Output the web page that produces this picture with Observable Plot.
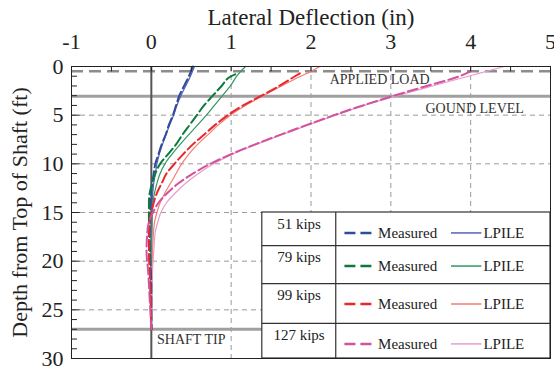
<!DOCTYPE html>
<html>
<head>
<meta charset="utf-8">
<script src="https://cdn.jsdelivr.net/npm/d3@7"></script>
<script src="https://cdn.jsdelivr.net/npm/@observablehq/plot@0.6"></script>
<style>
  html, body { margin: 0; padding: 0; background: #fff; }
  #chart svg { display: block; }
</style>
</head>
<body>
<div id="chart"></div>
<script>
// ---- Data ----
const loads = ["51 kips", "79 kips", "99 kips", "127 kips"];
const xTicks = [-1, 0, 1, 2, 3, 4, 5];
const yTicks = [0, 5, 10, 15, 20, 25, 30];

// 51 kips
const m51Depth = [0, 1, 2, 3, 4, 5, 6, 7, 8, 9, 10, 11, 12, 13, 14, 16, 18, 20, 23, 27];
const m51Defl  = [0.52, 0.47, 0.41, 0.35, 0.31, 0.27, 0.22, 0.18, 0.13, 0.09, 0.05, 0.03, 0.01, 0.0, -0.01, -0.02, -0.02, -0.01, 0, 0];
const l51Depth = [0, 1, 2, 3, 4, 5, 6, 7, 8, 9, 10, 11, 12, 14, 16, 20, 27];
const l51Defl  = [0.54, 0.49, 0.43, 0.37, 0.32, 0.28, 0.23, 0.185, 0.14, 0.10, 0.07, 0.05, 0.03, 0.01, 0.0, 0, 0];

// 79 kips
const m79Depth = [0.8, 1, 2, 3, 4, 5, 6, 7, 8, 9, 10, 11, 12, 13, 14, 15, 17, 20, 23, 27];
const m79Defl  = [1.05, 1.0, 0.88, 0.77, 0.66, 0.57, 0.48, 0.39, 0.31, 0.21, 0.11, 0.05, 0.01, -0.02, -0.03, -0.03, -0.03, -0.02, -0.01, 0];
const l79Depth = [0, 0.5, 1, 2, 3, 4, 5, 6, 7, 8, 9, 10, 11, 12, 13, 14, 16, 20, 27];
const l79Defl  = [1.18, 1.12, 1.07, 0.99, 0.89, 0.79, 0.69, 0.58, 0.47, 0.36, 0.26, 0.17, 0.11, 0.07, 0.04, 0.02, 0.01, 0, 0];

// 99 kips
const m99Depth = [0.7, 1, 2, 3, 4, 5, 6, 7, 8, 9, 10, 11, 12, 13, 14, 15, 16, 17, 19, 21, 23, 27];
const m99Defl  = [1.86, 1.8, 1.6, 1.38, 1.15, 0.96, 0.8, 0.66, 0.52, 0.4, 0.29, 0.19, 0.13, 0.07, 0.03, 0.0, -0.02, -0.03, -0.03, -0.02, -0.01, 0];
const l99Depth = [0, 0.5, 1, 2, 3, 4, 5, 6, 7, 8, 9, 10, 11, 12, 13, 14, 15, 16, 18, 20, 24, 27];
const l99Defl  = [2.11, 2.0, 1.87, 1.63, 1.40, 1.18, 0.99, 0.84, 0.71, 0.58, 0.47, 0.38, 0.31, 0.24, 0.17, 0.11, 0.07, 0.04, 0.02, 0.01, 0, 0];

// 127 kips
const m127Depth = [0.5, 1, 2, 3, 4, 5, 6, 7, 8, 9, 10, 11, 12, 13, 14, 15, 16, 17, 19, 21, 24, 27];
const m127Defl  = [4.0, 3.86, 3.45, 3.04, 2.65, 2.29, 1.95, 1.62, 1.3, 1.0, 0.74, 0.52, 0.34, 0.2, 0.09, 0.02, -0.03, -0.05, -0.06, -0.04, -0.02, 0];
const l127Depth = [0, 1, 2, 3, 4, 5, 6, 7, 8, 9, 10, 11, 12, 13, 14, 15, 16, 17, 19, 22, 27];
const l127Defl  = [4.42, 3.97, 3.52, 3.08, 2.67, 2.31, 1.97, 1.64, 1.32, 1.02, 0.78, 0.59, 0.43, 0.30, 0.19, 0.12, 0.08, 0.05, 0.03, 0.01, 0];

const measuredColors = ["#2f4b9c", "#0c7a3c", "#e8282c", "#d2529e"];
const lpileColors    = ["#5263b2", "#2f9862", "#f27d74", "#e99ccc"];

// reference levels (ft)
const appliedLoadDepth = 0.5;
const groundLevelDepth = 3.05;
const shaftTipDepth = 27;

// ---- Build tables ----
const measuredSets = [[m51Depth, m51Defl], [m79Depth, m79Defl], [m99Depth, m99Defl], [m127Depth, m127Defl]];
const lpileSets    = [[l51Depth, l51Defl], [l79Depth, l79Defl], [l99Depth, l99Defl], [l127Depth, l127Defl]];
function toRows(sets) {
  return sets.flatMap(([dep, def], i) => dep.map((d, j) => ({load: loads[i], idx: i, depth: d, defl: def[j]})));
}
const measuredRows = toRows(measuredSets);
const lpileRows = toRows(lpileSets);

// legend table layout (in data units of the chart)
const tableX1 = 1.39, tableX2 = 5, tableDiv = 2.31;
const rowTops = [15, 18.4, 22.3, 26.4];
const rowBottoms = [18.4, 22.3, 26.4, 30];
const legendRows = loads.map((load, i) => ({load, i, top: rowTops[i], bottom: rowBottoms[i]}));

const serif = "'Liberation Serif', 'Times New Roman', 'DejaVu Serif', serif";

const chart = Plot.plot({
  width: 554,
  height: 370,
  marginLeft: 71,
  marginRight: 4,
  marginTop: 66,
  marginBottom: 12,
  style: {fontFamily: serif, background: "white", color: "#222", overflow: "visible"},
  x: {domain: [-1, 5]},
  y: {domain: [0, 30], reverse: true},
  marks: [
    // grid
    Plot.ruleX([1, 2, 3, 4], {x: d => d, y1: 0, y2: 30, stroke: "#9a9a9a", strokeWidth: 1, strokeDasharray: "5,4"}),
    Plot.ruleY([5, 10, 15, 20, 25], {y: d => d, x1: -1, x2: 5, stroke: "#9a9a9a", strokeWidth: 1, strokeDasharray: "5,4"}),
    // reference levels
    Plot.ruleY([appliedLoadDepth], {y: d => d, x1: -1, x2: 5, stroke: "#8c8c8c", strokeWidth: 2.5, strokeDasharray: "12,6"}),
    Plot.ruleY([groundLevelDepth], {y: d => d, x1: -1, x2: 5, stroke: "#a0a0a0", strokeWidth: 3}),
    Plot.ruleY([shaftTipDepth], {y: d => d, x1: -1, x2: 5, stroke: "#a0a0a0", strokeWidth: 3}),
    Plot.ruleX([0], {x: d => d, y1: 0, y2: 30, stroke: "#555", strokeWidth: 2}),
    // annotations
    Plot.text(["APPLIED LOAD"], {x: 2.86, y: 1.35, text: d => d, fontSize: 14, fill: "#333", fontFamily: serif}),
    Plot.text(["GOUND LEVEL"], {x: 4.05, y: 4.3, text: d => d, fontSize: 14, fill: "#333", fontFamily: serif}),
    Plot.text(["SHAFT TIP"], {x: 0.5, y: 28.05, text: d => d, fontSize: 14, fill: "#333", fontFamily: serif}),
    // curves
    Plot.line(lpileRows, {x: "defl", y: "depth", z: "load", stroke: d => lpileColors[d.idx], strokeWidth: 1.2, curve: "monotone-y"}),
    Plot.line(measuredRows, {x: "defl", y: "depth", z: "load", stroke: d => measuredColors[d.idx], strokeWidth: 2, strokeDasharray: "10,4", curve: "monotone-y"}),
    // legend table
    Plot.rect([0], {x1: tableX1, x2: tableX2, y1: 15, y2: 30, fill: "white", stroke: "#333", strokeWidth: 1.2}),
    Plot.ruleY(legendRows.slice(1), {y: "top", x1: tableX1, x2: tableX2, stroke: "#333", strokeWidth: 1.2}),
    Plot.ruleX([tableDiv], {x: d => d, y1: 15, y2: 30, stroke: "#333", strokeWidth: 1.2}),
    Plot.text(legendRows, {x: (tableX1 + tableDiv) / 2, y: d => d.top + 1.2, text: "load", fontSize: 15, fill: "#222", fontFamily: serif}),
    Plot.ruleY(legendRows, {y: d => d.top + 2.1, x1: 2.425, x2: 2.79, stroke: d => measuredColors[d.i], strokeWidth: 2.5, strokeDasharray: "11,5"}),
    Plot.text(legendRows, {x: 2.84, y: d => d.top + 2.1, text: () => "Measured", textAnchor: "start", fontSize: 15, fill: "#222", fontFamily: serif}),
    Plot.ruleY(legendRows, {y: d => d.top + 2.1, x1: 3.76, x2: 4.14, stroke: d => lpileColors[d.i], strokeWidth: 1.5}),
    Plot.text(legendRows, {x: 4.16, y: d => d.top + 2.1, text: () => "LPILE", textAnchor: "start", fontSize: 15, fill: "#222", fontFamily: serif}),
    // frame and inward ticks
    Plot.frame({stroke: "#222", strokeWidth: 1}),
    Plot.ruleX(d3.range(-1, 5.001, 0.5), {x: d => d, y1: 0, y2: 0.55, stroke: "#222", strokeWidth: 1}),
    Plot.ruleY(d3.range(0, 30.001, 1).filter(d => d % 5 !== 0), {y: d => d, x1: -1, x2: -0.925, stroke: "#222", strokeWidth: 1}),
    Plot.ruleY(yTicks, {y: d => d, x1: -1, x2: -0.89, stroke: "#222", strokeWidth: 1}),
    // axes
    Plot.axisX(xTicks, {anchor: "top", tickSize: 0, tickPadding: 18, fontSize: 22, label: null, fill: "#222", fontFamily: serif, tickFormat: d => String(d)}),
    Plot.axisY(yTicks, {anchor: "left", tickSize: 0, tickPadding: 8, fontSize: 22, label: null, fill: "#222", fontFamily: serif}),
    // titles
    Plot.text(["Lateral Deflection (in)"], {frameAnchor: "top", dy: -58, text: d => d, fontSize: 23, fill: "#222", fontFamily: serif}),
    Plot.text(["Depth from Top of Shaft (ft)"], {frameAnchor: "left", textAnchor: "middle", dx: -52, rotate: -90, text: d => d, fontSize: 22, fill: "#222", fontFamily: serif})
  ]
});
document.getElementById("chart").append(chart);
</script>
</body>
</html>
